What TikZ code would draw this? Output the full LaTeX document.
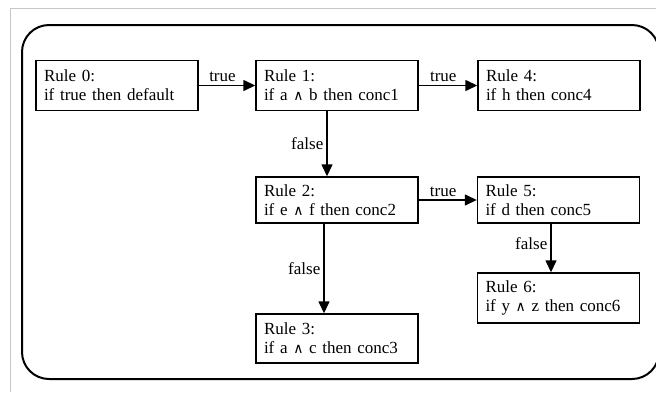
\documentclass[tikz,border=0pt]{standalone}
\usepackage{fontspec}
\setmainfont{Liberation Serif}
\newfontfamily\andfont{DejaVu Serif}
\newcommand{\andsym}{{\andfont\fontsize{14}{14}\selectfont ∧}}
\usetikzlibrary{arrows.meta,positioning}

\begin{document}
\begin{tikzpicture}[
    x=1pt, y=-1pt,
    font=\fontsize{17}{19}\selectfont,
    rulebox/.style={draw, line width=1.4pt, minimum width=162pt, minimum height=50pt, text width=146pt, inner xsep=8pt, inner ysep=0pt, align=left},
    edgelabel/.style={font=\fontsize{17}{17}\selectfont, inner sep=3pt},
    flow/.style={-{Triangle[length=12pt, width=11pt]}, line width=1.4pt}
]
\useasboundingbox (0,0) rectangle (656,392);
% frame
\draw[gray!45, line width=0.8pt] (10,392) -- (10,8) -- (656,8);
\draw[line width=2pt, rounded corners=27pt] (22,25) rectangle (659,379);

\node[rulebox] (r0) at (117,85.5) {Rule 0:\\if true then default};
\node[rulebox] (r1) at (337,85.5) {Rule 1:\\if a \andsym{} b then conc1};
\node[rulebox] (r4) at (559,85.5) {Rule 4:\\if h then conc4};
\node[rulebox, minimum height=46pt] (r2) at (337,200) {Rule 2:\\if e \andsym{} f then conc2};
\node[rulebox, minimum height=46pt] (r5) at (558.5,200) {Rule 5:\\if d then conc5};
\node[rulebox] (r6) at (558.5,298) {Rule 6:\\if y \andsym{} z then conc6};
\node[rulebox, minimum height=49pt] (r3) at (337,338.5) {Rule 3:\\if a \andsym{} c then conc3};

\foreach \a/\b in {r0/r1, r1/r4, r2/r5}
  \draw[flow] (\a) -- node[edgelabel, above, pos=0.42] {true} (\b);

\draw[flow] ([xshift=-10pt]r1.south) -- node[edgelabel, left] {false} ([xshift=-10pt]r1.south |- r2.north);
\draw[flow] ([xshift=-13pt]r2.south) -- node[edgelabel, left] {false} ([xshift=-13pt]r2.south |- r3.north);
\draw[flow] ([xshift=-7.5pt]r5.south) -- node[edgelabel, left, pos=0.4] {false} ([xshift=-7.5pt]r5.south |- r6.north);
\end{tikzpicture}
\end{document}
